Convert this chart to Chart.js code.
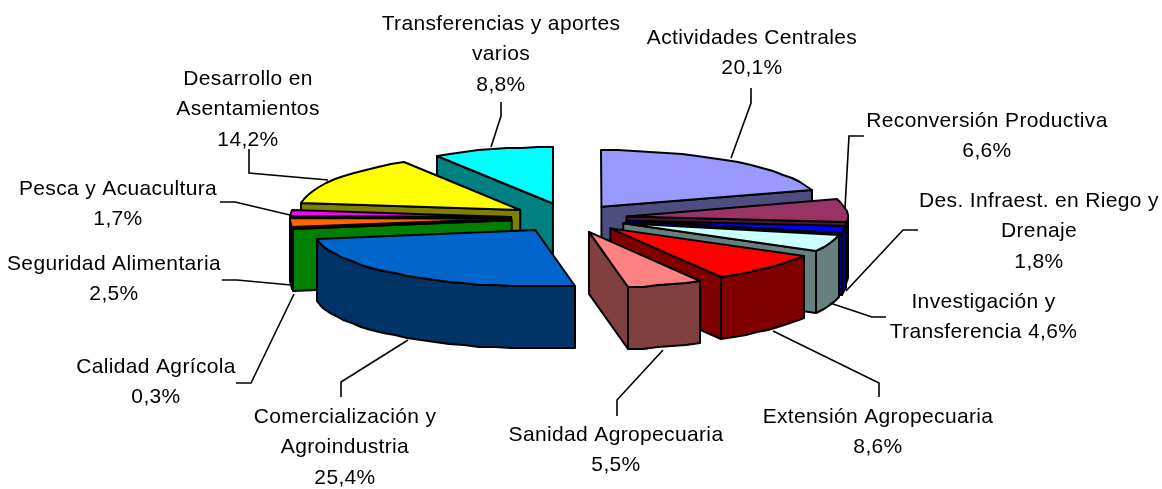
<!DOCTYPE html>
<html lang="es">
<head>
<meta charset="utf-8">
<title>Distribución por programas</title>
<script src="https://cdn.jsdelivr.net/npm/chart.js@4/dist/chart.umd.js"></script>
<style>html,body{margin:0;padding:0;background:#fff}canvas{display:block}</style>
</head>
<body>
<canvas id="c" width="1162" height="489"></canvas>
<script>
// ---- data ----
const categories = ["Actividades Centrales","Reconversión Productiva","Des. Infraest. en Riego y Drenaje","Investigación y Transferencia","Extensión Agropecuaria","Sanidad Agropecuaria","Comercialización y Agroindustria","Calidad Agrícola","Seguridad Alimentaria","Pesca y Acuacultura","Desarrollo en Asentamientos","Transferencias y aportes varios"];
const values = [20.1,6.6,1.8,4.6,8.6,5.5,25.4,0.3,2.5,1.7,14.2,8.8];
// ---- style ----
const topColors  = ["#9999FF","#993366","#0000FF","#CCFFFF","#FF0000","#FF8080","#0066CC","#00FF00","#FF6600","#FF00FF","#FFFF00","#00FFFF"];
const wallColors = ["#4D4D80","#4D1933","#000080","#668080","#800000","#804040","#003366","#008000","#803300","#800080","#808000","#008080"];
const explodeOffsets = [220,232,232,232,232,232,232,232,232,232,232,236];
// ---- label layout: text lines before the value, centre x, first-line y ----
const labelLines = [["Actividades Centrales"],["Reconversión Productiva"],["Des. Infraest. en Riego y","Drenaje"],["Investigación y","Transferencia"],["Extensión Agropecuaria"],["Sanidad Agropecuaria"],["Comercialización y","Agroindustria"],["Calidad Agrícola"],["Seguridad Alimentaria"],["Pesca y Acuacultura"],["Desarrollo en","Asentamientos"],["Transferencias y aportes","varios"]];
const labelX = [752,987,1039,983.5,878,616,345,156,114,118,248,501];
const labelY = [38,121,201,302,417,435,417,367,264,189,79,24];
const valueInline = [false,false,false,true,false,false,false,false,false,false,false,false];
const leaders = [
 [[751,88],[751,103],[731,158]],
 [[864,136],[849,136],[845,208]],
 [[918,230],[903,230],[846,291]],
 [[886,317],[872,317],[830,303]],
 [[879,397],[879,383],[773,331]],
 [[617,416],[617,400],[663,350]],
 [[341,397],[341,382],[408,340]],
 [[236,383],[251,383],[294,294]],
 [[222,280],[237,280],[291,285]],
 [[220,202],[235,202],[290,215]],
 [[249,149],[249,173],[328,180]],
 [[501,102],[501,116],[491,147]]
];
const view = {cx:569, cy:218, tilt:0.255, depth:62, radius:221, line:2, step:0.075, font:'21px "Liberation Sans", Arial, sans-serif', spacing:'0.35px', lineGap:30.4};
const fmt = v => v.toFixed(1).replace('.',',') + '%';

const pie3d = {
  id:'pie3d',
  beforeDatasetDraw(chart, args){
    const ctx = chart.ctx, k = view.tilt, D = view.depth;
    const slices = args.meta.data.map((el,i)=>{
      const s = el.startAngle, e = el.endAngle, m = (s+e)/2, R = el.outerRadius;
      const off = (el.options.offset||0)/4;
      return {i,s,e,m,R, ax:view.cx+Math.cos(m)*off, ay:view.cy+Math.sin(m)*off*k};
    }).sort((a,b)=>Math.sin(a.m)-Math.sin(b.m));
    ctx.save();
    ctx.lineWidth = view.line; ctx.lineJoin='round'; ctx.strokeStyle='#000';
    const paint = (fill)=>{ctx.fillStyle=fill;ctx.fill();ctx.stroke();};
    for(const p of slices){
      const pt = t => [Math.round(p.ax+Math.cos(t)*p.R), Math.round(p.ay+Math.sin(t)*p.R*k)];
      const arcPts = (a,b)=>{
        const n = Math.max(1,Math.ceil((b-a)/view.step)), out=[];
        for(let j=0;j<=n;j++) out.push(pt(a+(b-a)*j/n));
        return out;
      };
      const radial = t => {
        const q = pt(t);
        ctx.beginPath();ctx.moveTo(p.ax,p.ay);ctx.lineTo(q[0],q[1]);ctx.lineTo(q[0],q[1]+D);ctx.lineTo(p.ax,p.ay+D);ctx.closePath();
        paint(wallColors[p.i]);
      };
      if(Math.cos(p.s)<0) radial(p.s);
      if(Math.cos(p.e)>0) radial(p.e);
      const a = Math.max(p.s,0), b = Math.min(p.e,Math.PI);
      if(b>a){
        const pts = arcPts(a,b);
        ctx.beginPath();
        pts.forEach((q,j)=> j?ctx.lineTo(q[0],q[1]):ctx.moveTo(q[0],q[1]));
        pts.slice().reverse().forEach(q=>ctx.lineTo(q[0],q[1]+D));
        ctx.closePath();
        paint(wallColors[p.i]);
      }
      ctx.beginPath();
      ctx.moveTo(p.ax,p.ay);
      arcPts(p.s,p.e).forEach(q=>ctx.lineTo(q[0],q[1]));
      ctx.closePath();
      paint(topColors[p.i]);
    }
    ctx.restore();
    return false;
  },
  afterDraw(chart){
    const ctx = chart.ctx;
    ctx.save();
    ctx.strokeStyle='#000';ctx.lineWidth=1.6;ctx.lineJoin='miter';
    for(const l of leaders){
      ctx.beginPath();
      l.forEach((q,j)=> j?ctx.lineTo(q[0],q[1]):ctx.moveTo(q[0],q[1]));
      ctx.stroke();
    }
    ctx.fillStyle='#000';ctx.font=view.font;ctx.letterSpacing=view.spacing;ctx.textAlign='center';ctx.textBaseline='middle';
    values.forEach((v,i)=>{
      const lines = labelLines[i].slice();
      if(valueInline[i]) lines[lines.length-1]+=' '+fmt(v); else lines.push(fmt(v));
      lines.forEach((t,j)=>ctx.fillText(t,labelX[i],labelY[i]+j*view.lineGap));
    });
    ctx.restore();
  }
};

new Chart(document.getElementById('c'),{
  type:'pie',
  data:{labels:categories,datasets:[{data:values,backgroundColor:topColors,borderColor:'#000',offset:explodeOffsets,radius:view.radius,clip:false}]},
  options:{responsive:false,animation:false,events:[],plugins:{legend:{display:false},tooltip:{enabled:false}}},
  plugins:[pie3d]
});
</script>
</body>
</html>
